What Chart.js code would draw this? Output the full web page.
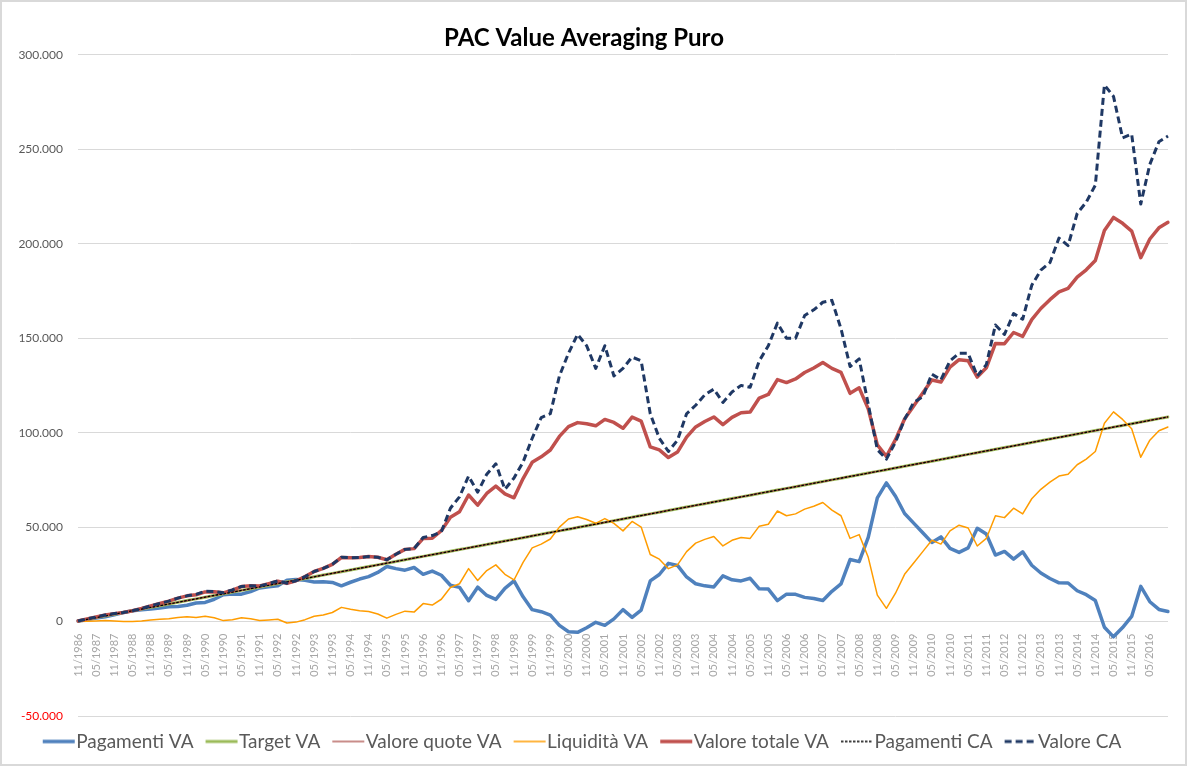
<!DOCTYPE html>
<html>
<head>
<meta charset="utf-8">
<script src="https://cdn.jsdelivr.net/npm/chart.js@4"></script>
<style>
  body { margin: 0; background: #fff; }
  #wrap { width: 1187px; height: 766px; }
</style>
</head>
<body>
<div id="wrap"><canvas id="chart" width="1187" height="766"></canvas></div>
<script>
// quarterly categories from 11/1986 to 11/2016 (values in thousands of euro)
const labels = [];
for (let i = 0; i <= 120; i++) {
    const m = 10 + 3 * i;
    labels.push(String(m % 12 + 1).padStart(2, "0") + "/" + (1986 + Math.floor(m / 12)));
}

const targetVA = [
    0.3, 1.2, 2.1, 3.0, 3.9, 4.8, 5.7, 6.6, 7.5, 8.4,
    9.3, 10.2, 11.1, 12.0, 12.9, 13.8, 14.7, 15.6, 16.5, 17.4,
    18.3, 19.2, 20.1, 21.0, 21.9, 22.8, 23.7, 24.6, 25.5, 26.4,
    27.3, 28.2, 29.1, 30.0, 30.9, 31.8, 32.7, 33.6, 34.5, 35.4,
    36.3, 37.2, 38.1, 39.0, 39.9, 40.8, 41.7, 42.6, 43.5, 44.4,
    45.3, 46.2, 47.1, 48.0, 48.9, 49.8, 50.7, 51.6, 52.5, 53.4,
    54.3, 55.2, 56.1, 57.0, 57.9, 58.8, 59.7, 60.6, 61.5, 62.4,
    63.3, 64.2, 65.1, 66.0, 66.9, 67.8, 68.7, 69.6, 70.5, 71.4,
    72.3, 73.2, 74.1, 75.0, 75.9, 76.8, 77.7, 78.6, 79.5, 80.4,
    81.3, 82.2, 83.1, 84.0, 84.9, 85.8, 86.7, 87.6, 88.5, 89.4,
    90.3, 91.2, 92.1, 93.0, 93.9, 94.8, 95.7, 96.6, 97.5, 98.4,
    99.3, 100.2, 101.1, 102.0, 102.9, 103.8, 104.7, 105.6, 106.5, 107.4,
    108.3
];
// in the picture these two sit exactly on the target line
const valoreQuoteVA = targetVA;
const pagamentiCA = targetVA;

const pagamentiVA = [
    0.3, 1.0, 1.8, 2.5, 3.6, 4.8, 5.7, 6.3, 6.7, 7.2,
    7.8, 8.0, 8.6, 9.8, 10.1, 11.8, 14.2, 14.6, 14.5, 15.9,
    17.8, 18.4, 18.9, 21.8, 22.2, 21.8, 20.9, 21.1, 20.7, 18.9,
    20.8, 22.5, 23.8, 26.0, 29.1, 28.0, 27.2, 28.6, 25.0, 26.7,
    24.5, 19.2, 18.1, 11.0, 18.2, 13.8, 11.7, 17.6, 21.5, 13.1,
    6.3, 5.2, 3.4, -2.0, -5.4, -5.7, -3.3, -0.4, -2.0, 1.4,
    6.3, 2.2, 6.1, 21.5, 24.9, 30.8, 29.7, 23.6, 20.0, 18.9,
    18.3, 24.2, 22.1, 21.5, 22.9, 17.3, 17.2, 11.1, 14.5, 14.4,
    12.8, 12.2, 11.1, 16.0, 19.9, 32.8, 31.7, 44.6, 65.5, 73.4,
    66.3, 57.2, 52.1, 47.0, 41.9, 44.8, 38.7, 36.6, 39.0, 49.4,
    46.3, 35.2, 37.1, 33.0, 36.9, 29.8, 25.7, 22.8, 20.5, 20.4,
    16.3, 14.2, 11.1, -3.0, -8.1, -3.2, 2.7, 18.6, 10.5, 6.4,
    5.3
];

const liquiditaVA = [
    0, 0.2, 0.3, 0.5, 0.3, 0, 0, 0.3, 0.8, 1.2,
    1.5, 2.2, 2.5, 2.2, 2.8, 2.0, 0.5, 1.0, 2.0, 1.5,
    0.5, 0.8, 1.2, -0.8, -0.3, 1.0, 2.8, 3.5, 4.8, 7.5,
    6.5, 5.7, 5.3, 4.0, 1.8, 3.8, 5.5, 5.0, 9.5, 8.7,
    11.8, 18.0, 20.0, 28.0, 21.7, 27.0, 30.0, 25.0, 22.0, 31.3,
    39.0, 41.0, 43.7, 50.0, 54.3, 55.5, 54.0, 52.0, 54.5, 52.0,
    48.0, 53.0, 50.0, 35.5, 33.0, 28.0, 30.0, 37.0, 41.5, 43.5,
    45.0, 40.0, 43.0, 44.5, 44.0, 50.5, 51.5, 58.5, 56.0, 57.0,
    59.5, 61.0, 63.0, 59.0, 56.0, 44.0, 46.0, 34.0, 14.0, 7.0,
    15.0, 25.0, 31.0, 37.0, 43.0, 41.0, 48.0, 51.0, 49.5, 40.0,
    44.0, 56.0, 55.0, 60.0, 57.0, 65.0, 70.0, 73.8, 77.0, 78.0,
    83.0, 86.0, 90.0, 105.0, 111.0, 107.0, 102.0, 87.0, 96.0, 101.0,
    103.0
];

const valoreTotaleVA = [
    0.3, 1.4, 2.4, 3.5, 4.2, 4.8, 5.7, 6.9, 8.3, 9.6,
    10.8, 12.4, 13.6, 14.2, 15.7, 15.8, 15.2, 16.6, 18.5, 18.9,
    18.8, 20.0, 21.3, 20.2, 21.6, 23.8, 26.5, 28.1, 30.3, 33.9,
    33.8, 33.9, 34.4, 34.0, 32.7, 35.6, 38.2, 38.6, 44.0, 44.1,
    48.1, 55.2, 58.1, 67.0, 61.6, 67.8, 71.7, 67.6, 65.5, 75.7,
    84.3, 87.2, 90.8, 98.0, 103.2, 105.3, 104.7, 103.6, 107.0, 105.4,
    102.3, 108.2, 106.1, 92.5, 90.9, 86.8, 89.7, 97.6, 103.0, 105.9,
    108.3, 104.2, 108.1, 110.5, 110.9, 118.3, 120.2, 128.1, 126.5, 128.4,
    131.8, 134.2, 137.1, 134.0, 131.9, 120.8, 123.7, 112.6, 93.5, 87.4,
    96.3, 107.2, 114.1, 121.0, 127.9, 126.8, 134.7, 138.6, 138.0, 129.4,
    134.3, 147.2, 147.1, 153.0, 150.9, 159.8, 165.7, 170.4, 174.5, 176.4,
    182.3, 186.2, 191.1, 207.0, 213.9, 210.8, 206.7, 192.6, 202.5, 208.4,
    211.3
];

const valoreCA = [
    0.3, 1.4, 2.4, 3.5, 4.2, 4.8, 5.7, 6.9, 8.3, 9.6,
    10.8, 12.4, 13.6, 14.4, 16.0, 15.9, 15.2, 16.8, 18.6, 18.9,
    18.8, 20.1, 21.5, 20.3, 21.6, 23.8, 26.5, 28.1, 30.3, 34.0,
    33.8, 33.9, 34.4, 34.0, 32.7, 35.6, 38.2, 38.6, 44.5, 45.5,
    47.5, 60.0, 66.0, 77.0, 68.5, 78.0, 83.5, 70.0, 76.0, 84.4,
    97.0, 108.0, 110.0, 130.0, 142.0, 152.0, 146.0, 134.0, 146.0, 130.0,
    134.0, 140.0, 138.0, 110.0, 97.0, 90.0, 96.0, 110.0, 114.5, 120.0,
    123.0, 116.0, 121.5, 125.0, 124.0, 138.0, 146.0, 158.0, 150.0, 150.0,
    162.0, 165.0, 169.0, 170.0, 155.0, 135.0, 139.0, 115.0, 91.0, 86.0,
    95.0, 107.0, 116.0, 119.0, 131.0, 128.0, 138.0, 142.0, 142.0, 130.0,
    136.0, 157.0, 152.0, 163.0, 160.0, 178.0, 186.0, 190.0, 203.0, 199.0,
    216.0, 222.0, 231.0, 284.0, 278.0, 256.0, 258.0, 221.0, 242.0, 254.0,
    257.0
];

const yTicks = { min: -50, max: 300, step: 50 };

function fmtThousands(v) {
    const n = Math.round(Math.abs(v) * 1000);
    const s = String(n).replace(/\B(?=(\d{3})+(?!\d))/g, ".");
    return (v < 0 ? "-" : "") + s;
}

// legend marker: a 32px line drawn so that it ends just before the text
function legendSample(color, width, dash) {
    const c = document.createElement("canvas");
    c.width = 52;
    c.height = 8;
    const g = c.getContext("2d");
    g.strokeStyle = color;
    g.lineWidth = width;
    g.setLineDash(dash || []);
    g.beginPath();
    g.moveTo(12, 4);
    g.lineTo(44, 4);
    g.stroke();
    return c;
}

const frame = {
    id: "frame",
    beforeDraw(chart) {
        const c = chart.ctx;
        c.save();
        c.fillStyle = "#fff";
        c.fillRect(0, 0, chart.width, chart.height);
        c.restore();
    },
    afterDraw(chart) {
        const c = chart.ctx;
        c.save();
        c.strokeStyle = "#d9d9d9";
        c.lineWidth = 2;
        c.strokeRect(1, 1, chart.width - 2, chart.height - 2);
        c.restore();
    }
};

function line(label, data, color, width, dash) {
    return {
        label: label,
        data: data,
        borderColor: color,
        backgroundColor: color,
        borderWidth: width,
        borderDash: dash || [],
        borderCapStyle: dash ? "butt" : "round",
        borderJoinStyle: "round",
        pointRadius: 0,
        pointStyle: legendSample(color, width, dash),
        tension: 0,
        fill: false
    };
}

const datasets = [
    line("Pagamenti VA", pagamentiVA, "#4f81bd", 3.5),
    line("Target VA", targetVA, "#9bbb59", 3),
    line("Valore quote VA", valoreQuoteVA, "#a5403c", 1.2),
    line("Liquidità VA", liquiditaVA, "#ff9c00", 1.5),
    line("Valore totale VA", valoreTotaleVA, "#c0504d", 3.5),
    line("Pagamenti CA", pagamentiCA, "#000000", 1.3, [2.5, 1.5]),
    line("Valore CA", valoreCA, "#1f3864", 3, [7, 4])
];
// Excel draws later series on top
datasets.forEach((d, i) => d.order = -i);

new Chart(document.getElementById("chart"), {
    type: "line",
    data: { labels: labels, datasets: datasets },
    plugins: [frame],
    options: {
        responsive: false,
        animation: false,
        layout: { padding: { left: 0, right: 19, top: 0, bottom: 5 } },
        plugins: {
            title: {
                display: true,
                text: "PAC Value Averaging Puro",
                color: "#000",
                font: { family: "Lato", size: 24, weight: "bold" },
                padding: { top: 24, bottom: 2 }
            },
            legend: {
                position: "bottom",
                labels: {
                    usePointStyle: true,
                    pointStyleWidth: 20,
                    color: "#595959",
                    font: { family: "Lato", size: 19 },
                    padding: 16,
                    sort: (a, b) => a.datasetIndex - b.datasetIndex
                }
            },
            tooltip: { enabled: false }
        },
        scales: {
            x: {
                type: "category",
                position: { y: 0 },
                afterFit: s => { s.height = 0; },
                grid: { display: false },
                border: { display: false },
                ticks: {
                    autoSkip: false,
                    minRotation: 90,
                    maxRotation: 90,
                    padding: 4,
                    color: "#a6a6a6",
                    font: { family: "Lato", size: 11 },
                    callback: function (v, i) {
                        return (i % 2 === 0 && i < 120) ? this.getLabelForValue(v) : "";
                    }
                }
            },
            y: {
                min: yTicks.min,
                max: yTicks.max,
                afterFit: s => { s.width = 78; },
                grid: { color: "#d9d9d9", drawTicks: false },
                border: { display: false },
                ticks: {
                    stepSize: yTicks.step,
                    padding: 15,
                    color: ctx => ctx.tick.value < 0 ? "#ff0000" : "#595959",
                    font: { family: "Lato", size: 12 },
                    callback: v => fmtThousands(v)
                }
            }
        }
    }
});
</script>
</body>
</html>
